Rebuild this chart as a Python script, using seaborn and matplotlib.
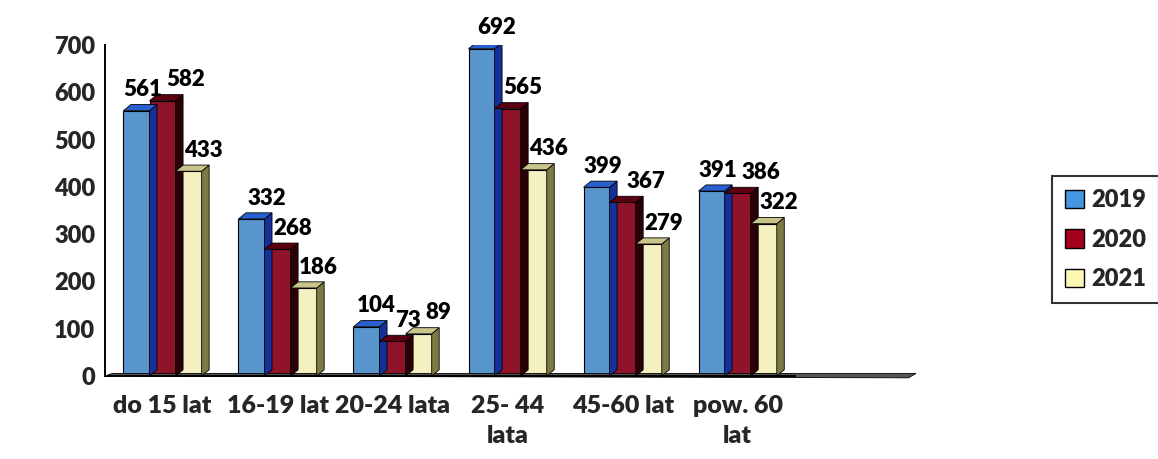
import numpy as np
import pandas as pd
import matplotlib
matplotlib.use('Agg')
import matplotlib.pyplot as plt
from matplotlib.patches import Polygon
import seaborn as sns

categories = ['do 15 lat', '16-19 lat', '20-24 lata', '25- 44\nlata', '45-60 lat', 'pow. 60\nlat']
years = ['2019', '2020', '2021']
v2019 = [561, 332, 104, 692, 399, 391]
v2020 = [582, 268, 73, 565, 367, 386]
v2021 = [433, 186, 89, 436, 279, 322]

df = pd.DataFrame({
    'kat': categories * 3,
    'rok': [y for y in years for _ in categories],
    'val': v2019 + v2020 + v2021,
})

front = {'2019': '#4596e0', '2020': '#a3001c', '2021': '#fdf7b6'}
side = {'2019': '#16309a', '2020': '#2a0008', '2021': '#7d7a45'}
top = {'2019': '#2a5fd0', '2020': '#5a0010', '2021': '#c9c48a'}

sns.set_style('white')
plt.rcParams['font.family'] = ['Lato', 'DejaVu Sans']
W = 'heavy'

fig = plt.figure(figsize=(11.58, 4.59), dpi=100)
ax = fig.add_axes([0.0907, 0.181, 0.596, 0.721])

sns.barplot(data=df, x='kat', y='val', hue='rok', palette=front, width=0.68,
            edgecolor='black', linewidth=0.8, legend=False, ax=ax)

ax.set_xlim(-0.5, 5.5)
ax.set_ylim(0, 700)

# fake 3D depth
dx = 0.065
dy = 13
labels = {}
for i, cont in enumerate(ax.containers):
    yr = years[i]
    for j, p in enumerate(cont.patches):
        x0 = p.get_x()
        w = p.get_width()
        h = p.get_height()
        sd = Polygon([[x0 + w, 0], [x0 + w + dx, dy], [x0 + w + dx, h + dy], [x0 + w, h]],
                     closed=True, facecolor=side[yr], edgecolor='black', linewidth=0.6, zorder=1.5)
        tp = Polygon([[x0, h], [x0 + dx, h + dy], [x0 + w + dx, h + dy], [x0 + w, h]],
                     closed=True, facecolor=top[yr], edgecolor='black', linewidth=0.6, zorder=1.5)
        ax.add_patch(sd)
        ax.add_patch(tp)
        t = ax.text(x0 + w / 2 + 0.13, h + dy + 9, f'{int(h)}', ha='center', va='bottom',
                    fontsize=16, fontweight=W, color='black', zorder=5)
        labels.setdefault(j, []).append(t)

# push apart value labels that collide inside a group
fig.canvas.draw()
r = fig.canvas.get_renderer()
px_per_unit = ax.get_window_extent().width / 6
for j, group in labels.items():
    for a, b in zip(group[:-1], group[1:]):
        ba = a.get_window_extent(r)
        bb = b.get_window_extent(r)
        ov_x = ba.x1 - bb.x0 + 4
        ov_y = min(ba.y1, bb.y1) - max(ba.y0, bb.y0)
        if ov_x > 0 and ov_y > 0:
            sh = ov_x / 2 / px_per_unit
            xa, ya = a.get_position()
            xb, yb = b.get_position()
            a.set_position((xa - sh, ya))
            b.set_position((xb + sh, yb))

# floor slab
floor = Polygon([[-0.5, 0], [-0.5 + dx, dy * 0.4], [6.55, dy * 0.4], [6.55 - dx, -4]],
                closed=True, facecolor='#555555', edgecolor='black', linewidth=0.6,
                zorder=1, clip_on=False)
ax.add_patch(floor)

sns.despine(ax=ax)
for s in ['left', 'bottom']:
    ax.spines[s].set_linewidth(1.4)
    ax.spines[s].set_color('black')

ax.set_yticks(range(0, 701, 100))
ax.tick_params(axis='y', direction='out', length=5, width=1.4, labelsize=17, pad=2)
for t in ax.get_yticklabels():
    t.set_fontweight(W)

ax.set_xticks(np.arange(-0.5, 6, 1), minor=True)
ax.tick_params(axis='x', which='minor', direction='out', length=6, width=1.4)
ax.tick_params(axis='x', which='major', length=0, labelsize=18, pad=14)
ax.set_xticks(range(len(categories)))
ax.set_xticklabels(categories, fontweight=W, linespacing=1.45, va='top')
ax.set_xlabel('')
ax.set_ylabel('')

handles = [plt.Rectangle((0, 0), 1, 1, facecolor=front[y], edgecolor='black', linewidth=1) for y in years]
leg = fig.legend(handles, years, loc='upper left', bbox_to_anchor=(1052 / 1158, 1 - 176 / 459),
                 frameon=True, fancybox=False, edgecolor='black', prop={'weight': W, 'size': 17},
                 handlelength=0.8, handleheight=0.8, handletextpad=0.3, labelspacing=0.75,
                 borderpad=0.55, borderaxespad=0)
leg.get_frame().set_linewidth(1.5)

fig.savefig('out.png', dpi=100)
